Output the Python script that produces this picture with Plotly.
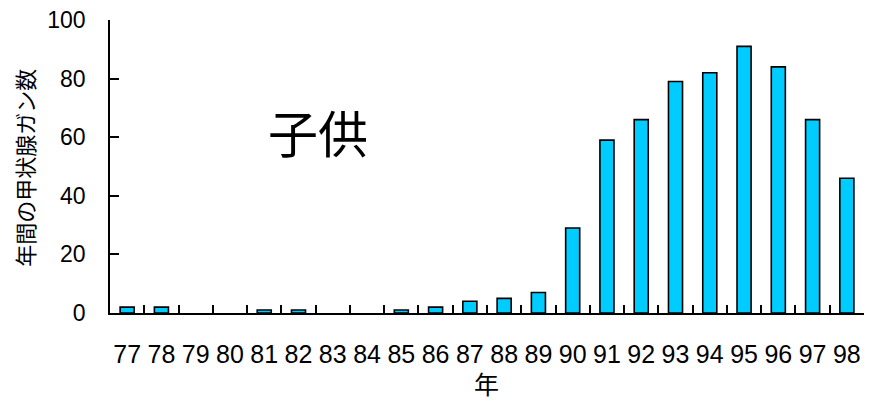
import plotly.graph_objects as go

# 年別の小児甲状腺ガン件数
years = ["77", "78", "79", "80", "81", "82", "83", "84", "85", "86", "87",
         "88", "89", "90", "91", "92", "93", "94", "95", "96", "97", "98"]
cases = [2, 2, 0, 0, 1, 1, 0, 0, 1, 2, 4,
         5, 7, 29, 59, 66, 79, 82, 91, 84, 66, 46]

y_ticks = [0, 20, 40, 60, 80, 100]

jp_font = "Noto Sans CJK JP"
num_font = "Liberation Sans, Arial"

# plot-area edges in pixels, used to place free text
L, R, T, B = 110, 864, 20, 313.5
W, H = R - L, B - T


def px(xp):
    return (xp - L) / W


def py(yp):
    return (B - yp) / H


# no outline on empty years so nothing is drawn there
outline_widths = [1.6 if v > 0 else 0 for v in cases]

fig = go.Figure(
    go.Bar(
        x=years,
        y=cases,
        marker=dict(color="#00CCFF",
                    line=dict(color="black", width=outline_widths)),
    )
)

fig.update_layout(
    width=869,
    height=403,
    margin=dict(l=L, r=869 - R, t=T, b=403 - B),
    paper_bgcolor="white",
    plot_bgcolor="white",
    bargap=0.59,
    showlegend=False,
    xaxis=dict(
        type="category",
        automargin=False,
        showline=True,
        linecolor="black",
        linewidth=1.6,
        ticks="inside",
        tickson="boundaries",
        ticklen=8,
        tickwidth=1.6,
        tickcolor="black",
        tickangle=0,
        showgrid=False,
        tickfont=dict(family=num_font, size=25, color="black"),
        ticklabelstandoff=18,
    ),
    yaxis=dict(
        range=[0, 100],
        automargin=False,
        tickvals=y_ticks,
        showline=True,
        linecolor="black",
        linewidth=1.6,
        ticks="inside",
        ticklen=9,
        tickwidth=1.6,
        tickcolor="black",
        showgrid=False,
        zeroline=False,
        tickfont=dict(family=num_font, size=23, color="black"),
        ticklabelstandoff=18,
    ),
    annotations=[
        dict(
            text="子供",
            xref="paper", yref="paper",
            x=px(318), y=py(131),
            xanchor="center", yanchor="middle",
            showarrow=False,
            font=dict(family=jp_font, size=50, color="black"),
        ),
        dict(
            text="年",
            xref="paper", yref="paper",
            x=px(486), y=py(384),
            xanchor="center", yanchor="middle",
            showarrow=False,
            borderpad=0,
            font=dict(family=jp_font, size=25, color="black"),
        ),
        dict(
            text="年間の甲状腺ガン数",
            xref="paper", yref="paper",
            x=px(24), y=py(168),
            xanchor="center", yanchor="middle",
            textangle=-90,
            showarrow=False,
            font=dict(family=jp_font, size=22, color="black"),
        ),
    ],
)

fig.write_html("out.html")
